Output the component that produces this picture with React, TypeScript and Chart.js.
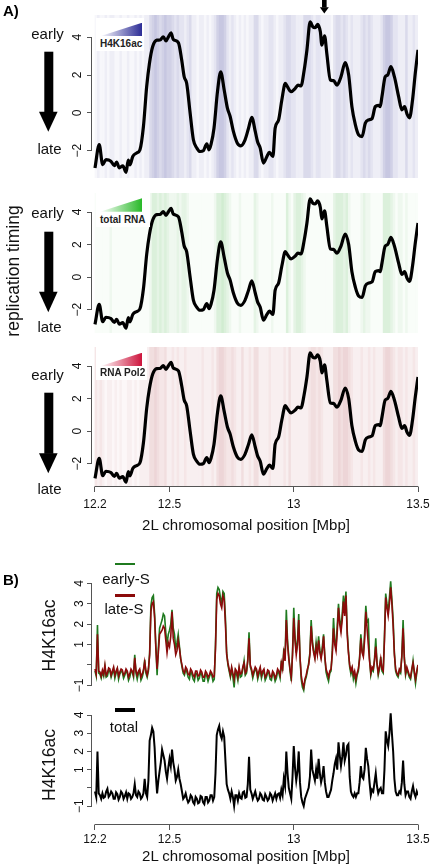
import React, { useEffect, useRef } from 'react';
import { Chart, registerables } from 'chart.js';

Chart.register(...registerables);

const FONT = "'Liberation Sans', Arial, Helvetica, sans-serif";
Chart.defaults.font.family = FONT;

// ---------- shared x axis (Mbp) ----------
const X_TICKS = [12.2, 12.5, 13, 13.5];
const X_TICK_LABELS = ['12.2', '12.5', '13', '13.5'];
const X_MIN = 12.188;
const X_MAX = 13.5;

// ---------- panel A: replication timing profile ----------
const repPos = [
  12.2, 12.217, 12.231, 12.244, 12.264, 12.278, 12.287, 12.298, 12.312, 12.325,
  12.334, 12.341, 12.352, 12.368, 12.381, 12.395, 12.408, 12.419, 12.432, 12.449,
  12.462, 12.475, 12.486, 12.495, 12.506, 12.515, 12.536, 12.549, 12.559, 12.569,
  12.583, 12.596, 12.61, 12.623, 12.636, 12.65, 12.659, 12.667, 12.679, 12.693,
  12.706, 12.72, 12.733, 12.744, 12.757, 12.773, 12.787, 12.804, 12.818, 12.831,
  12.845, 12.854, 12.865, 12.878, 12.892, 12.902, 12.916, 12.925, 12.939, 12.952,
  12.966, 12.975, 12.989, 13.006, 13.017, 13.029, 13.042, 13.053, 13.066, 13.077,
  13.086, 13.096, 13.107, 13.113, 13.124, 13.133, 13.147, 13.16, 13.174, 13.19,
  13.207, 13.221, 13.234, 13.248, 13.261, 13.275, 13.288, 13.301, 13.315, 13.328,
  13.341, 13.348, 13.355, 13.368, 13.378, 13.391, 13.405, 13.422, 13.435, 13.446,
  13.456, 13.466, 13.478, 13.489, 13.5,
];
const repVal = [
  -2.91, -1.68, -2.74, -2.47, -2.55, -2.79, -2.6, -2.9, -2.8, -3.14,
  -2.5, -2.75, -2.3, -2.12, -1.95, -0.72, 1.38, 2.6, 3.49, 3.84,
  3.85, 4.02, 3.8, 4.0, 4.23, 3.88, 3.7, 2.79, 1.91, 1.56,
  -0.02, -1.42, -1.86, -2.04, -2.0, -1.63, -1.95, -1.67, -0.81, 1.12,
  2.17, 1.21, 0.25, -0.19, -0.98, -1.6, -1.74, -1.42, -0.81, -0.23,
  -0.98, -1.51, -1.86, -2.65, -2.3, -2.09, -2.3, -0.81, -0.37, 0.68,
  1.56, 1.37, 1.12, 1.3, 1.47, 1.42, 2.26, 3.32, 4.81, 4.54,
  4.5, 4.68, 4.28, 3.58, 4.07, 3.14, 1.74, 1.7, 1.47, 1.91,
  2.65, 2.0, 0.33, -0.63, -1.16, -1.25, -0.54, -0.37, -0.3, 0.33,
  0.4, 0.33, 0.86, 1.91, 2.0, 2.44, 1.91, 0.86, 0.16, 0.33,
  -0.07, -0.26, 0.68, 2.09, 3.33,
];
const REP_TICKS = [-2, 0, 2, 4];
const REP_TICK_LABELS = ['\u22122', '0', '2', '4'];
const REP_MIN = -3.44;
const REP_MAX = 5.17;
const ARROW_POS = 13.123;

// ---------- panel A: signal heat-strips (0.01 Mbp bins, level 0..5) ----------
const BIN_START = 12.2;
const BIN_WIDTH = 0.01;
const h4k16acLevels = [
  0, 1, 0, 0, 1, 0, 1, 1, 0, 0,
  1, 0, 0, 1, 0, 0, 1, 0, 1, 0,
  1, 1, 3, 4, 5, 4, 3, 4, 5, 4,
  4, 3, 2, 3, 2, 2, 1, 2, 3, 1,
  1, 0, 1, 1, 0, 1, 0, 1, 2, 4,
  5, 5, 4, 2, 1, 2, 1, 0, 1, 0,
  1, 0, 1, 1, 3, 3, 1, 0, 1, 1,
  2, 2, 1, 0, 1, 1, 2, 3, 3, 2,
  2, 1, 1, 1, 3, 3, 3, 2, 1, 2,
  2, 1, 1, 1, 1, 0, 2, 3, 3, 2,
  3, 2, 1, 2, 1, 1, 1, 2, 3, 2,
  3, 2, 1, 1, 1, 2, 4, 5, 5, 4,
  2, 2, 1, 1, 1, 3, 1, 1, 2, 1,
];
const totalRnaLevels = [
  0, 0, 0, 0, 0, 0, 1, 0, 0, 0,
  0, 0, 0, 0, 0, 0, 0, 0, 0, 0,
  0, 0, 1, 3, 3, 2, 3, 2, 3, 2,
  1, 1, 1, 2, 1, 2, 2, 1, 0, 0,
  0, 0, 0, 0, 0, 0, 0, 0, 1, 3,
  3, 4, 3, 2, 1, 0, 0, 0, 1, 0,
  0, 0, 0, 0, 2, 1, 0, 0, 0, 0,
  0, 1, 0, 0, 0, 0, 0, 3, 1, 0,
  2, 3, 3, 2, 1, 0, 0, 0, 0, 0,
  0, 0, 0, 0, 0, 0, 2, 3, 3, 3,
  2, 3, 1, 0, 0, 0, 0, 1, 2, 1,
  1, 0, 0, 0, 0, 0, 3, 3, 3, 2,
  1, 0, 1, 1, 0, 1, 0, 0, 0, 0,
];
const pol2Levels = [
  2, 1, 2, 1, 0, 1, 1, 0, 1, 0,
  1, 0, 0, 1, 1, 0, 1, 0, 1, 1,
  1, 1, 3, 3, 4, 3, 2, 2, 3, 1,
  1, 2, 1, 2, 1, 1, 2, 1, 1, 1,
  1, 1, 1, 2, 1, 1, 1, 2, 1, 3,
  4, 4, 3, 2, 2, 3, 2, 1, 1, 3,
  1, 1, 2, 1, 3, 3, 1, 1, 1, 1,
  2, 1, 1, 1, 1, 1, 2, 1, 3, 1,
  1, 1, 1, 1, 1, 1, 2, 3, 3, 2,
  3, 2, 1, 1, 1, 1, 3, 3, 4, 3,
  4, 4, 3, 2, 1, 1, 1, 2, 1, 1,
  2, 1, 2, 1, 1, 1, 3, 4, 4, 3,
  2, 1, 2, 2, 1, 2, 1, 1, 2, 1,
];

// ---------- panel B: H4K16ac enrichment (0.005 Mbp steps) ----------
const B_START = 12.2;
const B_STEP = 0.005;
const earlyS = [
  -0.3, -0.55, 1.95, -0.4, -0.45, -0.65, -0.35, -0.55, -0.1, -0.6,
  -0.55, -0.25, -0.3, -0.6, -0.4, -0.2, -0.65, -0.4, -0.2, -0.7,
  -0.45, -0.3, -0.35, -0.65, -0.5, -0.3, -0.4, -0.75, -0.6, -0.3,
  -0.35, -0.6, 0.5, -0.4, -0.7, -0.4, -0.3, -0.75, -0.6, -0.35,
  0.25, -0.4, -0.6, -0.3, 0.6, 2.9, 3.3, 3.4, 2.5, 0.9,
  -0.5, 0.8, 1.8, 2.0, 2.2, 2.5, 2.4, 1.6, 1.0, 1.5,
  1.7, 2.0, 2.7, 1.8, 1.5, 0.8, 1.1, 1.5, 0.9, 0.3,
  -0.1, -0.4, -0.5, -0.2, -0.35, -0.6, -0.7, -0.3, -0.45, -0.7,
  -0.8, -0.4, -0.45, -0.75, -0.65, -0.35, -0.5, -0.8, -0.8, -0.4,
  -0.55, -0.8, -0.6, -0.4, -0.5, -0.8, -0.7, 1.0, 3.5, 3.8,
  3.7, 3.3, 3.0, 3.6, 3.5, 2.3, 0.6, 0.0, -0.3, -0.6,
  -0.2, -0.6, -1.1, -0.3, -0.45, -0.75, -0.2, -0.6, -0.55, -0.2,
  0.2, -0.5, -0.4, 0.3, 1.6, -0.1, -0.3, -0.65, -0.4, -0.2,
  -0.3, -0.7, -0.45, -0.2, -0.65, -0.4, -0.3, -0.75, -0.6, -0.35,
  -0.4, -0.7, -0.75, -0.4, -0.5, -0.8, -0.65, -0.3, -0.4, -0.65,
  0.2, -0.3, 0.8, 0.3, 2.7, 1.2, 0.4, -0.3, -0.8, 0.6,
  2.8, 1.4, 0.6, 1.2, 2.5, 0.4, -0.7, -1.1, -1.25, -0.8,
  -0.6, -0.3, 0.1, 0.6, 2.2, 1.2, 0.7, 0.4, 1.1, 0.6,
  1.4, 0.7, 0.4, 0.9, 1.5, 0.4, -0.35, -0.6, -0.8, -0.4,
  -0.3, 0.7, 2.3, 1.2, 0.9, 1.9, 3.0, 2.2, 1.8, 2.5,
  3.4, 2.7, 3.6, 1.7, 0.7, -0.1, -0.45, -0.2, -0.7, -0.45,
  -0.9, -0.5, -0.3, 0.4, 1.5, 0.7, 0.5, 1.5, 2.9, 2.1,
  2.2, 0.3, -0.5, -0.2, -0.3, 0.3, 1.3, 0.1, -0.5, -0.2,
  0.4, -0.3, -0.4, 1.4, 3.5, 3.0, 2.6, 3.3, 4.1, 3.2,
  2.2, 0.6, -0.3, -0.5, -0.6, -0.3, -0.4, 0.5, 2.2, 0.4,
  -0.5, -0.2, -0.4, -0.6, -0.7, -0.3, 0.2, -0.4, -0.9, -0.4,
  0.0,
];
const lateS = [
  -0.2, -0.45, 1.5, -0.3, -0.35, -0.55, -0.25, -0.45, 0.0, -0.5,
  -0.4, -0.15, -0.2, -0.5, -0.3, -0.1, -0.5, -0.3, -0.15, -0.55,
  -0.35, -0.2, -0.25, -0.5, -0.4, -0.2, -0.3, -0.6, -0.45, -0.2,
  -0.3, -0.5, 0.35, -0.3, -0.5, -0.3, -0.2, -0.6, -0.45, -0.25,
  0.15, -0.3, -0.5, -0.2, 0.5, 2.6, 3.0, 3.1, 2.3, 0.8,
  -0.2, 0.6, 1.5, 1.6, 1.7, 1.9, 1.8, 1.2, 0.6, 1.1,
  0.9, 1.4, 2.6, 1.3, 1.0, 0.5, 0.7, 1.2, 0.8, 0.3,
  0.0, -0.3, -0.4, -0.1, -0.2, -0.45, -0.5, -0.2, -0.3, -0.5,
  -0.6, -0.3, -0.3, -0.55, -0.5, -0.25, -0.35, -0.6, -0.6, -0.3,
  -0.4, -0.6, -0.5, -0.3, -0.4, -0.6, -0.55, 0.8, 3.2, 3.5,
  3.4, 3.0, 2.8, 3.4, 3.2, 2.0, 0.5, 0.1, -0.2, -0.5,
  -0.1, -0.4, -0.7, -0.2, -0.3, -0.6, -0.1, -0.45, -0.4, -0.1,
  0.1, -0.4, -0.3, 0.2, 1.3, 0.0, -0.2, -0.5, -0.3, -0.1,
  -0.2, -0.55, -0.3, -0.1, -0.5, -0.3, -0.2, -0.6, -0.5, -0.25,
  -0.3, -0.55, -0.6, -0.3, -0.4, -0.65, -0.5, -0.2, -0.3, -0.5,
  0.1, -0.2, 0.6, 0.2, 2.2, 1.0, 0.3, -0.2, -0.6, 0.5,
  2.3, 1.2, 0.5, 1.0, 2.2, 0.4, -0.5, -0.9, -1.1, -0.7,
  -0.5, -0.2, 0.0, 0.5, 1.9, 1.0, 0.6, 0.3, 0.9, 0.5,
  1.2, 0.6, 0.3, 0.7, 1.4, 0.4, -0.2, -0.4, -0.6, -0.3,
  -0.2, 0.5, 1.8, 1.0, 0.7, 1.6, 2.8, 2.0, 1.6, 2.2,
  3.1, 2.4, 3.4, 1.5, 0.6, 0.0, -0.3, -0.1, -0.5, -0.3,
  -0.7, -0.4, -0.2, 0.3, 1.3, 0.6, 0.4, 1.2, 2.6, 1.8,
  1.0, 0.2, -0.4, -0.1, -0.2, 0.2, 0.9, 0.1, -0.4, -0.1,
  0.3, -0.2, -0.3, 1.2, 3.3, 2.8, 2.4, 3.0, 3.8, 3.0,
  1.9, 0.5, -0.2, -0.4, -0.5, -0.2, -0.3, 0.4, 1.8, 0.3,
  -0.4, -0.1, -0.3, -0.5, -0.6, -0.2, 0.1, -0.3, -0.7, -0.3,
  0.0,
];
const totalH4 = [
  -0.2, -0.5, 2.0, -0.3, -0.4, -0.6, -0.3, -0.55, -0.5, -0.2,
  -0.05, -0.5, -0.4, -0.2, -0.3, -0.6, -0.6, -0.25, -0.35, -0.65,
  -0.5, -0.2, -0.3, -0.6, -0.45, -0.25, -0.6, -0.3, -0.35, -0.6,
  -0.5, -0.3, 0.2, -0.4, -0.5, -0.2, -0.3, -0.6, -0.5, -0.3,
  0.5, -0.3, -0.5, 0.4, 2.6, 2.9, 3.3, 3.1, 2.2, 0.7,
  -0.3, 0.4, 0.9, 1.4, 2.1, 1.8, 1.5, 0.9, 0.5, 1.1,
  1.6, 1.2, 2.1, 1.4, 1.0, 0.4, 0.6, 1.0, 0.5, 0.2,
  -0.2, -0.6, -0.5, -0.3, -0.6, -0.8, -0.7, -0.4, -0.5, -0.8,
  -0.9, -0.5, -0.6, -0.85, -0.8, -0.45, -0.5, -0.8, -0.9, -0.5,
  -0.5, -0.8, -0.7, -0.4, -0.4, -0.7, -0.5, 0.8, 2.9, 3.2,
  3.4, 2.9, 2.7, 3.1, 2.8, 1.5, 0.2, -0.1, -0.3, -0.6,
  -0.2, -0.5, -1.0, -0.4, -0.4, -0.7, -0.3, -0.55, -0.6, -0.25,
  -0.2, -0.55, -0.5, 0.2, 1.7, -0.1, -0.3, -0.6, -0.4, -0.2,
  -0.5, -0.7, -0.6, -0.3, -0.4, -0.65, -0.7, -0.35, -0.5, -0.7,
  -0.6, -0.3, -0.4, -0.7, -0.5, -0.3, -0.6, -0.35, -0.3, -0.55,
  -0.1, -0.4, 0.5, 0.1, 2.0, 0.8, 0.0, -0.3, -0.6, 0.6,
  2.3, 1.1, 0.4, 0.9, 2.0, 0.3, -0.5, -0.8, -1.0, -0.6,
  -0.4, -0.2, 0.0, 0.6, 2.1, 1.0, 0.7, 0.4, 1.0, 0.5,
  1.6, 0.8, 0.3, 0.6, 1.2, 0.3, -0.2, -0.5, -0.5, -0.3,
  -0.1, 0.4, 0.8, 1.3, 1.6, 1.0, 2.5, 1.8, 1.2, 1.7,
  2.5, 1.5, 1.8, 2.3, 2.4, 0.6, -0.2, -0.4, -0.5, -0.3,
  -0.5, -0.3, -0.3, 0.3, 1.2, 0.6, 0.5, 1.0, 2.2, 1.6,
  1.2, 0.3, -0.4, -0.1, -0.2, 0.3, 0.8, 0.1, -0.3, -0.1,
  0.0, -0.3, -0.3, 1.0, 3.1, 2.6, 2.3, 3.0, 4.1, 3.0,
  2.0, 0.5, -0.2, -0.4, -0.4, -0.2, -0.3, 0.3, 1.5, 0.2,
  -0.4, -0.2, -0.2, -0.5, -0.6, -0.2, 0.1, -0.3, -0.5, -0.2,
  -0.4,
];
const B_TICKS = [-1, 0, 1, 2, 3, 4];
const B_TICK_LABELS = ['\u22121', '', '1', '2', '3', '4'];
const B1_MIN = -1.62;
const B1_MAX = 4.505;
const B2_MIN = -2.04;
const B2_MAX = 4.55;

// ---------- styling ----------
const W = 431;
const PLOT_LEFT = 92;
const PAD_RIGHT = 13;
const AXIS_COLOR = '#555';
const TEXT_COLOR = '#111';
const BLUE = [40, 40, 140];
const GREEN = [30, 160, 30];
const RED = [165, 40, 50];
const EARLY_COLOR = '#1f7a1f';
const LATE_COLOR = '#8b0a0a';

function shade(rgb: number[], a: number) {
  const c = rgb.map((v) => Math.round(255 - a * (255 - v)));
  return `rgb(${c[0]},${c[1]},${c[2]})`;
}

const rAxesPlugin = {
  id: 'rAxes',
  afterDraw(chart: any, _args: any, opts: any) {
    if (!opts || !opts.yTicks) return;
    const { ctx, chartArea: area } = chart;
    const ys = chart.scales.y;
    const xs = chart.scales.x;
    const align = (p: number) => Math.round(p - 0.5) + 0.5;
    ctx.save();
    ctx.strokeStyle = AXIS_COLOR;
    ctx.lineWidth = 1;
    const t: number[] = opts.yTicks;
    const ax = Math.round(area.left) - 0.5;
    ctx.beginPath();
    ctx.moveTo(ax, align(ys.getPixelForValue(t[0])) + 0.5);
    ctx.lineTo(ax, align(ys.getPixelForValue(t[t.length - 1])) - 0.5);
    ctx.stroke();
    ctx.fillStyle = TEXT_COLOR;
    ctx.font = `12px ${FONT}`;
    ctx.textAlign = 'center';
    ctx.textBaseline = 'middle';
    t.forEach((v, i) => {
      const lab = opts.yLabels[i];
      if (!lab) return;
      ctx.save();
      ctx.translate(area.left - opts.labelGap, ys.getPixelForValue(v));
      ctx.rotate(-Math.PI / 2);
      ctx.fillText(lab, 0, 0);
      ctx.restore();
    });
    if (opts.xLine) {
      const by = Math.round(area.bottom) - 0.5;
      ctx.beginPath();
      ctx.moveTo(xs.getPixelForValue(X_TICKS[0]) - 0.5, by);
      ctx.lineTo(xs.getPixelForValue(X_TICKS[X_TICKS.length - 1]) + 0.5, by);
      ctx.stroke();
    }
    if (opts.arrowAt != null) {
      const px = xs.getPixelForValue(opts.arrowAt);
      ctx.fillStyle = '#000';
      ctx.fillRect(px - 2.3, 0, 4.6, 7.5);
      ctx.beginPath();
      ctx.moveTo(px - 4.5, 7.3);
      ctx.lineTo(px + 4.5, 7.3);
      ctx.lineTo(px, 13.5);
      ctx.closePath();
      ctx.fill();
    }
    ctx.restore();
  },
};
Chart.register(rAxesPlugin as any);

function xScale(show: boolean, axisHeight: number, tickPad: number) {
  const s: any = {
    type: 'linear',
    min: X_MIN,
    max: X_MAX,
    bounds: 'data',
    offset: false,
    display: show,
    afterBuildTicks: (sc: any) => {
      sc.ticks = X_TICKS.map((v) => ({ value: v }));
    },
    ticks: {
      autoSkip: false,
      maxRotation: 0,
      minRotation: 0,
      padding: tickPad,
      color: TEXT_COLOR,
      font: { size: 12 },
      callback: (_v: number, i: number) => X_TICK_LABELS[i],
    },
    grid: { display: true, drawOnChartArea: false, drawTicks: true, tickLength: 5, color: AXIS_COLOR, offset: false },
    border: { display: false },
  };
  if (show) {
    s.afterFit = (sc: any) => {
      sc.height = axisHeight;
      sc.paddingLeft = 0;
      sc.paddingRight = 0;
    };
  }
  return s;
}

function yScale(min: number, max: number, ticks: number[], title?: string) {
  return {
    type: 'linear',
    min,
    max,
    bounds: 'data',
    afterBuildTicks: (sc: any) => {
      sc.ticks = ticks.map((v) => ({ value: v }));
    },
    afterFit: (sc: any) => {
      sc.width = PLOT_LEFT;
      sc.paddingTop = 0;
      sc.paddingBottom = 0;
    },
    ticks: { display: false },
    grid: { display: true, drawOnChartArea: false, drawTicks: true, tickLength: 5, color: AXIS_COLOR },
    border: { display: false },
    title: title
      ? { display: true, text: title, color: TEXT_COLOR, font: { size: 17.5 }, padding: { top: 39.5, bottom: 0 } }
      : { display: false },
  };
}

function heatDataset(levels: number[], rgb: number[], a0: number, a1: number) {
  return {
    type: 'bar',
    order: 2,
    data: levels.map((_l, i) => ({ x: BIN_START + BIN_WIDTH * (i + 0.5), y: [REP_MIN, REP_MAX] })),
    backgroundColor: levels.map((l) => shade(rgb, a0 + a1 * l)),
    borderWidth: 0,
    barPercentage: 1,
    categoryPercentage: 1,
    grouped: false,
    inflateAmount: 0.4,
  };
}

function repDataset() {
  return {
    type: 'line',
    order: 0,
    data: repPos.map((x, i) => ({ x, y: repVal[i] })),
    borderColor: '#000',
    borderWidth: 3.2,
    pointRadius: 0,
    cubicInterpolationMode: 'monotone',
    fill: false,
  };
}

function bDataset(vals: number[], color: string, width: number, order: number) {
  return {
    type: 'line',
    order,
    data: vals.map((v, i) => ({ x: B_START + B_STEP * i, y: v })),
    borderColor: color,
    borderWidth: width,
    pointRadius: 0,
    tension: 0,
    fill: false,
  };
}

function baseOptions(padTop: number, padBottom: number, scales: any, rAxes: any) {
  return {
    responsive: false,
    animation: false,
    events: [],
    layout: { padding: { left: 0, right: PAD_RIGHT, top: padTop, bottom: padBottom } },
    plugins: { legend: { display: false }, tooltip: { enabled: false }, rAxes },
    scales,
  };
}

function buildA(levels: number[], rgb: number[], a0: number, a1: number, padTop: number, padBottom: number, showX: boolean, arrow: boolean) {
  return () => ({
    type: 'line',
    data: { datasets: [repDataset(), heatDataset(levels, rgb, a0, a1)] },
    options: baseOptions(
      padTop,
      padBottom,
      { x: xScale(showX, 53, 5), y: yScale(REP_MIN, REP_MAX, REP_TICKS) },
      { yTicks: REP_TICKS, yLabels: REP_TICK_LABELS, labelGap: 14, xLine: showX, arrowAt: arrow ? ARROW_POS : null },
    ),
  });
}

const buildB1 = () => ({
  type: 'line',
  data: { datasets: [bDataset(lateS, LATE_COLOR, 1.6, 0), bDataset(earlyS, EARLY_COLOR, 1.6, 1)] },
  options: baseOptions(
    13,
    2,
    { x: xScale(false, 0, 0), y: yScale(B1_MIN, B1_MAX, B_TICKS, 'H4K16ac') },
    { yTicks: B_TICKS, yLabels: B_TICK_LABELS, labelGap: 12, xLine: false, arrowAt: null },
  ),
});

const buildB2 = () => ({
  type: 'line',
  data: { datasets: [bDataset(totalH4, '#000', 2.0, 0)] },
  options: baseOptions(
    5,
    0,
    { x: xScale(true, 40, 2), y: yScale(B2_MIN, B2_MAX, B_TICKS, 'H4K16ac') },
    { yTicks: B_TICKS, yLabels: B_TICK_LABELS, labelGap: 12, xLine: true, arrowAt: null },
  ),
});

function ChartBox({ top, height, build }: { top: number; height: number; build: () => any }) {
  const ref = useRef<HTMLCanvasElement>(null);
  useEffect(() => {
    const chart = new Chart(ref.current as HTMLCanvasElement, build());
    return () => chart.destroy();
  }, []);
  return (
    <canvas
      ref={ref}
      width={W}
      height={height}
      style={{ position: 'absolute', left: 0, top, width: W, height, display: 'block' }}
    />
  );
}

const text = (s: React.CSSProperties): React.CSSProperties => ({
  position: 'absolute',
  fontFamily: FONT,
  color: TEXT_COLOR,
  lineHeight: 1,
  whiteSpace: 'nowrap',
  ...s,
});

const A_PANELS = [
  { early: 33, late: 147.5, arrowTop: 51.7, headTop: 111.7, tip: 131.7 },
  { early: 211.5, late: 326, arrowTop: 231.7, headTop: 291.7, tip: 312.3 },
  { early: 374, late: 487.5, arrowTop: 392.7, headTop: 453.3, tip: 473.3 },
];

const A_LEGENDS = [
  { label: 'H4K16ac', rgb: [45, 45, 150], boxTop: 18, boxW: 48, triTop: 22.7, textTop: 38.8 },
  { label: 'total RNA', rgb: [40, 185, 40], boxTop: 193, boxW: 54, triTop: 198.3, textTop: 214.5 },
  { label: 'RNA Pol2', rgb: [205, 20, 60], boxTop: 347, boxW: 51, triTop: 352.7, textTop: 368.3 },
];

function Overlay() {
  return (
    <>
      {A_LEGENDS.map((l, i) => (
        <div key={'lg' + i}>
          <div style={{ position: 'absolute', left: 96, top: l.boxTop, width: l.boxW, height: l.textTop + 12 - l.boxTop, background: '#fff' }} />
          <div
            style={{
              position: 'absolute',
              left: 100,
              top: l.triTop,
              width: 42,
              height: 13.5,
              background: `linear-gradient(to right, #ffffff, rgb(${l.rgb[0]},${l.rgb[1]},${l.rgb[2]}))`,
              clipPath: 'polygon(0 100%, 100% 0, 100% 100%)',
            }}
          />
          <div style={text({ left: 100, top: l.textTop, fontSize: 10, fontWeight: 'bold', color: '#222' })}>{l.label}</div>
        </div>
      ))}

      <div style={text({ left: 3, top: 10, transform: 'translateY(-50%)', fontSize: 15, fontWeight: 'bold', color: '#000' })}>A)</div>
      <div style={text({ left: 3, top: 579, transform: 'translateY(-50%)', fontSize: 15, fontWeight: 'bold', color: '#000' })}>B)</div>

      {A_PANELS.map((p, i) => (
        <React.Fragment key={'ep' + i}>
          <div style={text({ left: 47.5, top: p.early, transform: 'translate(-50%,-50%)', fontSize: 15 })}>early</div>
          <div style={text({ left: 49.5, top: p.late, transform: 'translate(-50%,-50%)', fontSize: 15 })}>late</div>
        </React.Fragment>
      ))}

      <svg width={W} height={865} style={{ position: 'absolute', left: 0, top: 0, pointerEvents: 'none' }}>
        {A_PANELS.map((p, i) => (
          <g key={'ar' + i} fill="#000">
            <rect x={44.3} y={p.arrowTop} width={9} height={p.headTop - p.arrowTop + 0.5} />
            <polygon points={`39,${p.headTop} 57.6,${p.headTop} 48.3,${p.tip}`} />
          </g>
        ))}
      </svg>

      <div style={text({ left: 14, top: 271, transform: 'translate(-50%,-50%) rotate(-90deg)', fontSize: 17.5 })}>replication timing</div>

      <div style={text({ left: 246, top: 524, transform: 'translate(-50%,-50%)', fontSize: 15 })}>2L chromosomal position [Mbp]</div>
      <div style={text({ left: 246, top: 855.4, transform: 'translate(-50%,-50%)', fontSize: 15 })}>2L chromosomal position [Mbp]</div>

      <div style={{ position: 'absolute', left: 115, top: 562.7, width: 20, height: 2.7, background: EARLY_COLOR }} />
      <div style={text({ left: 126, top: 578, transform: 'translate(-50%,-50%)', fontSize: 15 })}>early-S</div>
      <div style={{ position: 'absolute', left: 115, top: 594.2, width: 20, height: 2.7, background: LATE_COLOR }} />
      <div style={text({ left: 124, top: 607.5, transform: 'translate(-50%,-50%)', fontSize: 15 })}>late-S</div>
      <div style={{ position: 'absolute', left: 115, top: 708.3, width: 20, height: 3.4, background: '#000' }} />
      <div style={text({ left: 124, top: 726, transform: 'translate(-50%,-50%)', fontSize: 15 })}>total</div>
    </>
  );
}

export default function App() {
  return (
    <div style={{ position: 'absolute', left: 0, top: 0, width: W, height: 865, background: '#fff', overflow: 'hidden' }}>
      <ChartBox top={0} height={185} build={buildA(h4k16acLevels, BLUE, 0.035, 0.045, 15, 7, false, true)} />
      <ChartBox top={186} height={150} build={buildA(totalRnaLevels, GREEN, 0.025, 0.045, 7, 3, false, false)} />
      <ChartBox top={340} height={200} build={buildA(pol2Levels, RED, 0.035, 0.04, 7, 0, true, false)} />
      <ChartBox top={560} height={140} build={buildB1} />
      <ChartBox top={700} height={165} build={buildB2} />
      <Overlay />
    </div>
  );
}
